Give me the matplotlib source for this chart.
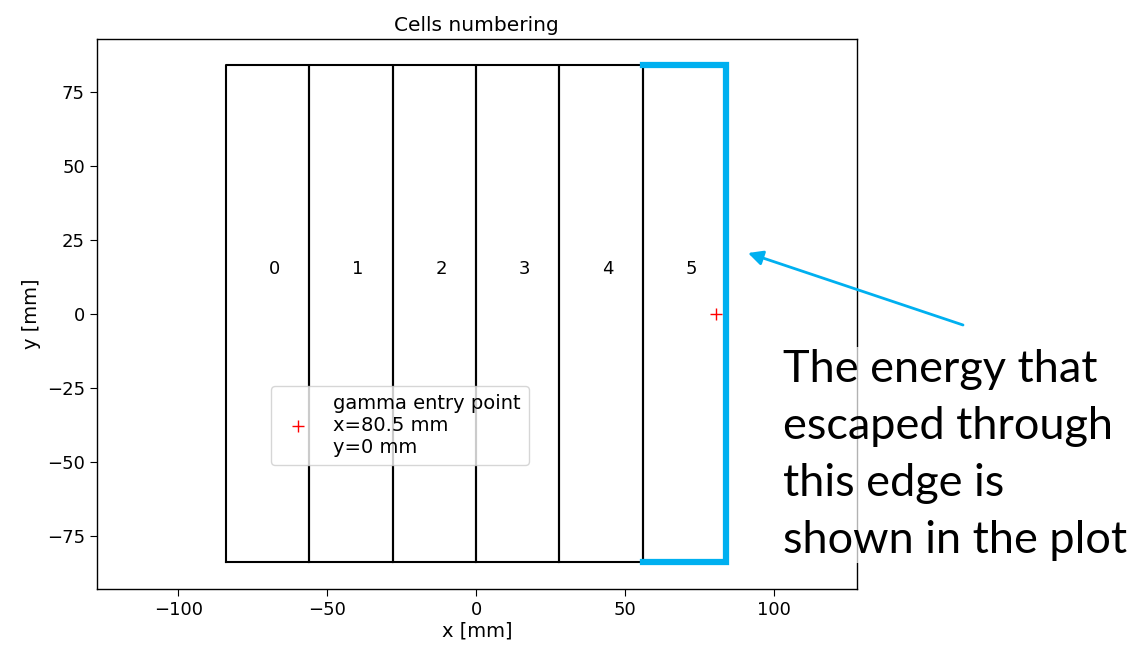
import matplotlib.pyplot as plt

# cell geometry (mm)
cell_edges = [-84, -56, -28, 0, 28, 56, 84]
cell_half_height = 84
cell_labels = ['0', '1', '2', '3', '4', '5']
label_y = 15

# gamma entry point
entry_x = [80.5]
entry_y = [0]
entry_label = 'gamma entry point\nx=80.5 mm\ny=0 mm'

# edge through which energy escapes
edge_x = [56, 84, 84, 56]
edge_y = [84, 84, -84, -84]

note = 'The energy that\nescaped through\nthis edge is\nshown in the plot'

plt.rcParams['font.size'] = 13
plt.rcParams['xtick.major.size'] = 5
plt.rcParams['ytick.major.size'] = 5
plt.rcParams['axes.linewidth'] = 1.0

fig = plt.figure(figsize=(11.3, 6.49), dpi=100)
ax = fig.add_axes([0.0856, 0.0924, 0.6728, 0.8475])

h = cell_half_height
for i in range(len(cell_edges) - 1):
    x0, x1 = cell_edges[i], cell_edges[i + 1]
    ax.plot([x0, x1, x1, x0, x0], [-h, -h, h, h, -h], color='black', lw=1.5)
    ax.text((x0 + x1) / 2 + 2.2, label_y, cell_labels[i], ha='center', va='center', fontsize=13)

ax.plot(edge_x, edge_y, color='#00B0F0', lw=4.5, solid_joinstyle='miter')
ax.plot(entry_x, entry_y, 'r+', ms=8, label=entry_label)

ax.set_xlim(-127.4, 127.9)
ax.set_ylim(-93.0, 92.8)
ax.tick_params(labelsize=13)
ax.set_title('Cells numbering', fontsize=14.5)
ax.set_xlabel('x [mm]', fontsize=14, labelpad=2)
ax.set_ylabel('y [mm]', fontsize=14)
ax.legend(loc='center', bbox_to_anchor=(0.399, 0.297), fontsize=14)

# annotation outside the plot
fig.text(783 / 1130, 1 - 455 / 649, note, ha='left', va='center',
         fontsize=32.5, family='Lato', linespacing=1.48,
         bbox=dict(boxstyle='square,pad=0.05', fc='white', ec='none', alpha=0.7))
ax.annotate('', xy=(748 / 1130, 1 - 253 / 649), xycoords='figure fraction',
            xytext=(963 / 1130, 1 - 325 / 649), textcoords='figure fraction',
            arrowprops=dict(arrowstyle='-|>', color='#00B0F0', lw=2,
                            mutation_scale=22, shrinkA=0, shrinkB=0),
            annotation_clip=False)

plt.savefig('out.png', dpi=100)
